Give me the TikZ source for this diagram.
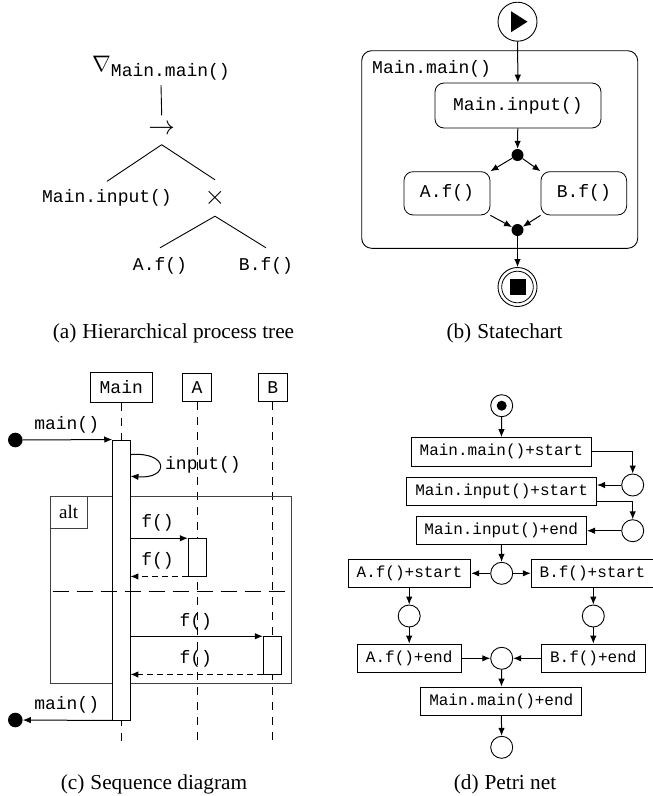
\documentclass[tikz,border=0pt]{standalone}
\usepackage{fontspec}
\setmainfont{Liberation Serif}
\setmonofont{Liberation Mono}
\usetikzlibrary{arrows.meta,calc}
\begin{document}
\begin{tikzpicture}[x=1pt,y=-1pt,
  every node/.style={font=\fontsize{18}{20}\selectfont\ttfamily},
  captext/.style={font=\fontsize{21.3}{24}\selectfont\rmfamily, inner sep=0},
  tn/.style={inner sep=0},
  sym/.style={inner sep=0, font=\fontsize{22}{22}\selectfont},
  arr/.style={-{Latex[length=8pt,width=6.5pt]}, line width=1pt},
  ln/.style={line width=0.9pt},
  state/.style={draw, rounded corners=9pt, line width=0.8pt, inner sep=0},
  dot/.style={circle, fill, inner sep=0, minimum size=12pt},
  lbox/.style={draw, line width=0.8pt, inner sep=0},
  life/.style={line width=1pt, dash pattern=on 8pt off 7pt},
  ret/.style={dash pattern=on 6pt off 4pt},
  sepline/.style={line width=1pt, dash pattern=on 16pt off 8pt},
  msg/.style={inner sep=0},
  trans/.style={draw, line width=0.8pt, inner xsep=8.5pt, inner ysep=0, minimum height=28.5pt, font=\fontsize{16}{18}\selectfont\ttfamily},
  place/.style={circle, draw, line width=0.9pt, minimum size=22pt, inner sep=0}
]
\useasboundingbox (0,0) rectangle (653,796);

% ---------- (a) process tree ----------
\node[tn, minimum height=34pt] (root) at (161,68) {\raisebox{1pt}{\scalebox{1.3}{$\nabla$}}\raisebox{-4pt}{Main.main()}};
\node[sym, minimum height=29pt] (seq) at (161.7,130) {\scalebox{1.28}{$\rightarrow$}};
\node[tn, minimum height=33pt] (inp) at (107,198) {Main.input()};
\node[sym, minimum height=36pt] (xor) at (215,198) {\scalebox{1.28}{$\times$}};
\node[tn, minimum height=36pt] (af) at (160,266) {A.f()};
\node[tn, minimum height=36pt] (bf) at (266,266) {B.f()};
\draw[ln] (root.south) -- (seq.north);
\draw[ln] (seq.south) -- (inp.north);
\draw[ln] (seq.south) -- (xor.north);
\draw[ln] (xor.south) -- (af.north);
\draw[ln] (xor.south) -- (bf.north);
\node[captext] (capa) at (173.5,333) {(a)\hspace{6pt}Hierarchical process tree};

% ---------- (b) statechart ----------
\node[draw, rounded corners=10pt, line width=0.9pt, minimum width=276pt, minimum height=197.6pt, inner sep=0] (comp) at (499.7,149.5) {};
\node[anchor=west, inner sep=0] (complabel) at (372,69) {Main.main()};
\node[circle, draw, line width=0.9pt, minimum size=39pt, inner sep=0] (start) at (517.5,21.7) {};
\fill ($(start.center)+(-6.5,-10.5)$) -- ($(start.center)+(-6.5,10.5)$) -- ($(start.center)+(10,0)$) -- cycle;
\node[state, minimum width=166pt, minimum height=45pt] (sinp) at (518,105.5) {Main.input()};
\node[dot] (fork) at (517.5,155) {};
\node[state, minimum width=86pt, minimum height=43.3pt] (saf) at (447,193.3) {A.f()};
\node[state, minimum width=85.7pt, minimum height=43.3pt] (sbf) at (583.8,193.3) {B.f()};
\node[dot] (join) at (517.5,230) {};
\node[circle, draw, line width=0.9pt, minimum size=39pt, inner sep=0] (endc) at (517.5,287) {};
\draw[line width=0.8pt] (endc.center) circle (15.8pt);
\fill ($(endc.center)+(-8,-8.3)$) rectangle ($(endc.center)+(8,8.3)$);
\draw[arr] (start) -- (sinp);
\draw[arr] (sinp) -- (fork);
\draw[arr] (fork) -- (saf.north east);
\draw[arr] (fork) -- (sbf.north west);
\draw[arr] (saf.south east) -- (join);
\draw[arr] (sbf.south west) -- (join);
\draw[arr] (join) -- (endc);
\node[captext] (capb) at (504.5,333) {(b)\hspace{6pt}Statechart};

% ---------- (c) sequence diagram ----------
\node[lbox, minimum width=62.7pt, minimum height=30pt] (lmain) at (121.3,387.3) {Main};
\node[lbox, minimum width=29.4pt, minimum height=28.4pt] (la) at (197,387.5) {A};
\node[lbox, minimum width=29pt, minimum height=28.4pt] (lb) at (272.8,387.5) {B};
\draw[life] (lmain.south) -- ++(0,338);
\draw[life] (la.south) -- ++(0,338.3);
\draw[life] (lb.south) -- ++(0,338.3);
\node[draw, draw=black!75, line width=0.9pt, minimum width=241pt, minimum height=187.3pt, inner sep=0] (altf) at (170.5,589.65) {};
\node[draw, draw=black!75, line width=0.9pt, anchor=north west, minimum width=37.3pt, minimum height=32.3pt, inner sep=0, font=\fontsize{19}{20}\selectfont\rmfamily] (altt) at (altf.north west) {alt};
\node[draw, line width=0.9pt, fill=white, minimum width=17.3pt, minimum height=280pt, inner sep=0] (bar) at (121.35,580) {};
\node[draw, line width=0.9pt, fill=white, minimum width=17.7pt, minimum height=37.3pt, inner sep=0] (acta) at (197.15,557.35) {};
\node[draw, line width=0.9pt, fill=white, minimum width=18.4pt, minimum height=37.3pt, inner sep=0] (actb) at (272.5,655.35) {};
\draw[sepline] ($(altf.west)+(3,2)$) -- ($(altf.east)+(-6,2)$);
\node[circle, fill, inner sep=0, minimum size=14.6pt] (sdot) at (15.3,440) {};
\node[circle, fill, inner sep=0, minimum size=14.6pt] (edot) at (15.3,720) {};
\draw[arr] (sdot) -- (bar.north west);
\node[msg] (m1) at (66.7,425) {main()};
\draw[arr] ($(bar.north east)+(0,15)$) .. controls +(39,-3) and +(39,3) .. ($(bar.north east)+(0,36.7)$);
\node[msg] (m2) at (203,465) {input()};
\draw[arr] (bar.east |- acta.north) -- (acta.north west);
\node[msg] (m3) at (157.5,522.7) {f()};
\draw[arr, ret] (acta.south west) -- (bar.east |- acta.south);
\node[msg] (m4) at (157.5,560.7) {f()};
\draw[arr] (bar.east |- actb.north) -- (actb.north west);
\node[msg] (m5) at (195.8,621.7) {f()};
\draw[arr, ret] (actb.south west) -- (bar.east |- actb.south);
\node[msg] (m6) at (195.8,659) {f()};
\draw[arr] (bar.south west) -- (edot);
\node[msg] (m7) at (66.7,705) {main()};
\node[captext] (capc) at (154,784) {(c)\hspace{6pt}Sequence diagram};

% ---------- (d) Petri net ----------
\node[place] (p0) at (501.7,405.7) {};
\fill (p0.center) circle (5pt);
\node[trans] (t1) at (501.3,451.8) {Main.main()+start};
\node[place] (p1) at (632.7,485) {};
\node[trans] (t2) at (501.7,491.2) {Main.input()+start};
\node[place] (p2) at (632.7,530.7) {};
\node[trans] (t3) at (501.3,530.5) {Main.input()+end};
\node[place] (p3) at (501.7,573.3) {};
\node[trans] (t4) at (409.5,573.3) {A.f()+start};
\node[trans] (t5) at (592.5,573.3) {B.f()+start};
\node[place] (p4) at (409.2,616) {};
\node[place] (p5) at (593.3,616) {};
\node[trans] (t6) at (409.2,658.3) {A.f()+end};
\node[trans] (t7) at (593.3,658.3) {B.f()+end};
\node[place] (p6) at (501.7,658.3) {};
\node[trans] (t8) at (501.3,701.3) {Main.main()+end};
\node[place] (p7) at (501.7,747.3) {};
\draw[arr] (p0) -- (t1);
\draw[arr] (t1) -| (p1);
\draw[arr] (p1) -- (p1 -| t2.east);
\draw[arr] ($(t2.south east)+(0,-4)$) -| (p2);
\draw[arr] (p2) -- (p2 -| t3.east);
\draw[arr] (t3) -- (p3);
\draw[arr] (p3) -- (t4);
\draw[arr] (p3) -- (t5);
\draw[arr] (t4.south -| p4) -- (p4);
\draw[arr] (t5.south -| p5) -- (p5);
\draw[arr] (p4) -- (p4 |- t6.north);
\draw[arr] (p5) -- (p5 |- t7.north);
\draw[arr] (t6) -- (p6);
\draw[arr] (t7) -- (p6);
\draw[arr] (p6) -- (t8);
\draw[arr] (t8) -- (p7);
\node[captext] (capd) at (505,784) {(d)\hspace{6pt}Petri net};
\end{tikzpicture}
\end{document}
